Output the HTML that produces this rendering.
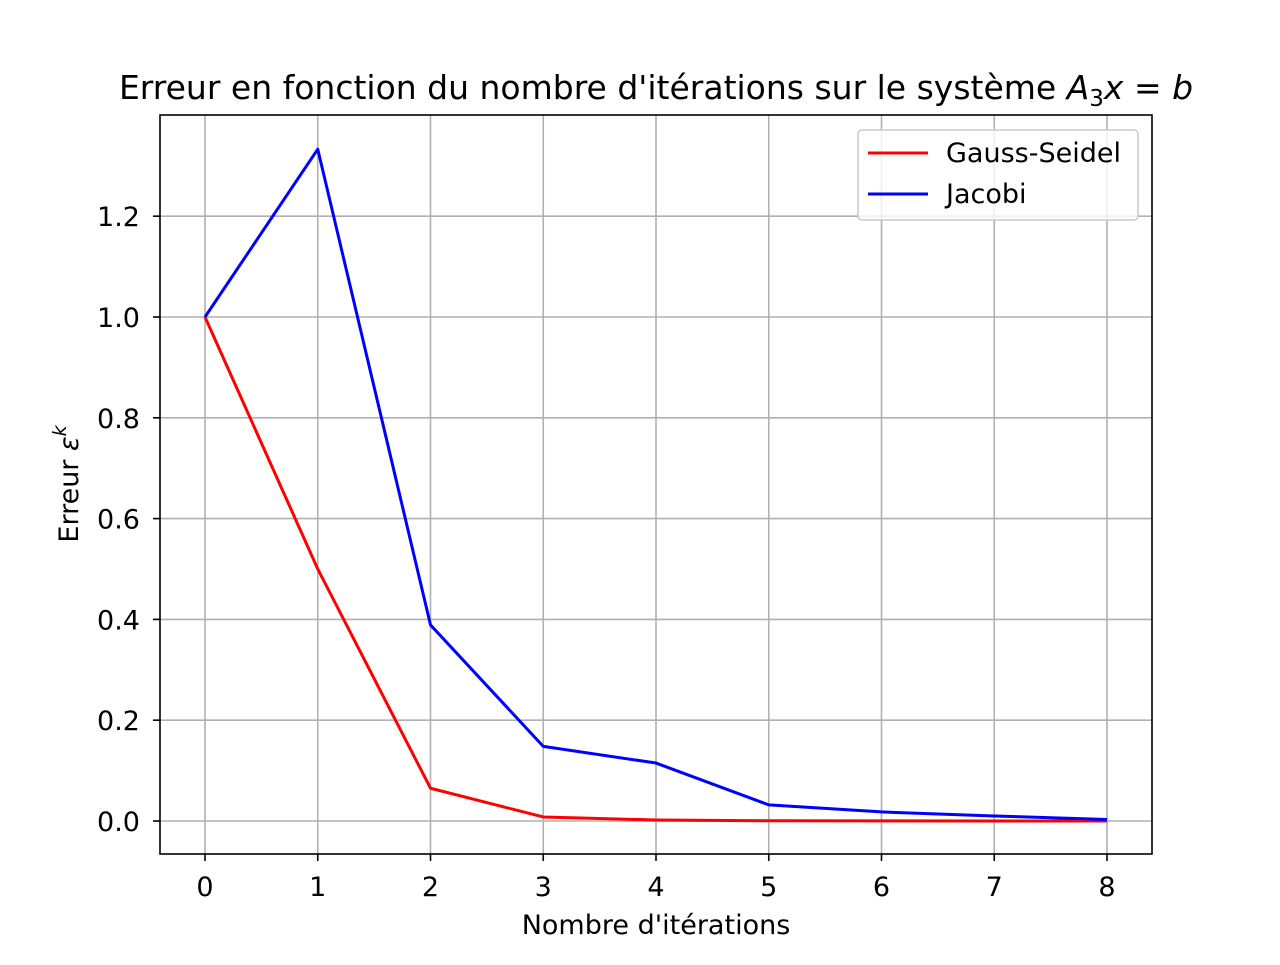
<!DOCTYPE html>
<html><head><meta charset="utf-8"><style>
body{margin:0;background:#fff;}
svg text{font-family:"DejaVu Sans","Liberation Sans",sans-serif;fill:#000;}
</style></head><body>
<svg id="chart" width="1280" height="960" viewBox="0 0 1280 960">
<rect x="0" y="0" width="1280" height="960" fill="#fff"/>
<g id="grid"></g><g id="ticks"></g><g id="series"></g>
<rect x="160" y="115" width="992" height="739" fill="none" stroke="#000" stroke-width="1.6"/>
<text x="656" y="99" font-size="33" text-anchor="middle">Erreur en fonction du nombre d'itérations sur le système <tspan font-style="italic">A</tspan><tspan font-size="23" dy="7">3</tspan><tspan font-style="italic" dy="-7">x</tspan> = <tspan font-style="italic">b</tspan></text>
<text x="656" y="934" font-size="27" text-anchor="middle">Nombre d'itérations</text>
<text transform="translate(78,484) rotate(-90)" font-size="27" text-anchor="middle">Erreur <tspan font-style="italic">ε</tspan><tspan font-style="italic" font-size="19" dy="-12">k</tspan></text>
<g>
<rect x="858" y="130" width="280" height="90" rx="4" fill="#fff" fill-opacity="0.8" stroke="#ccc" stroke-width="1.6"/>
<line x1="868" y1="153" x2="928" y2="153" stroke="red" stroke-width="3"/>
<text x="946" y="162" font-size="27">Gauss-Seidel</text>
<line x1="868" y1="194" x2="928" y2="194" stroke="blue" stroke-width="3"/>
<text x="946" y="203" font-size="27">Jacobi</text>
</g>
</svg>
<script>
const iterations=[0,1,2,3,4,5,6,7,8];
const gaussSeidel=[1,0.5,0.065,0.008,0.002,0.0005,0.0002,0.0001,0.0];
const jacobi=[1,1.333,0.389,0.148,0.115,0.032,0.018,0.01,0.003];
const yTicks=[0,0.2,0.4,0.6,0.8,1.0,1.2];
const yTickLabels=["0.0","0.2","0.4","0.6","0.8","1.0","1.2"];
const NS="http://www.w3.org/2000/svg";
const xs=v=>205+v*112.75;
const ys=v=>821-v*504;
function mk(t,a,p){const e=document.createElementNS(NS,t);for(const k in a)e.setAttribute(k,a[k]);p.appendChild(e);return e;}
const grid=document.getElementById('grid'),ticks=document.getElementById('ticks'),series=document.getElementById('series');
iterations.forEach(v=>{
  const g=mk('line',{x1:xs(v),x2:xs(v),y1:115,y2:854,stroke:'#b0b0b0','stroke-width':1.6},grid);
  
  
  mk('line',{x1:xs(v),x2:xs(v),y1:854,y2:861,stroke:'#000','stroke-width':1.6},ticks);
  const t=mk('text',{x:xs(v),y:896,'font-size':27,'text-anchor':'middle'},ticks);
  t.textContent=v;
  
  
});
yTicks.forEach((v,i)=>{
  const g=mk('line',{x1:160,x2:1152,y1:ys(v),y2:ys(v),stroke:'#b0b0b0','stroke-width':1.6},grid);
  
  
  mk('line',{x1:153,x2:160,y1:ys(v),y2:ys(v),stroke:'#000','stroke-width':1.6},ticks);
  const t=mk('text',{x:140,y:ys(v)+10,'font-size':27,'text-anchor':'end'},ticks);
  t.textContent=yTickLabels[i];
  
  
});
function line(vals,color,name){
  const p=mk('polyline',{points:vals.map((v,i)=>xs(iterations[i])+','+ys(v)).join(' '),fill:'none',stroke:color,'stroke-width':3,'stroke-linejoin':'round'},series);
  
  
}
line(gaussSeidel,'red','gauss-seidel-line');
line(jacobi,'blue','jacobi-line');
</script>
</body></html>
